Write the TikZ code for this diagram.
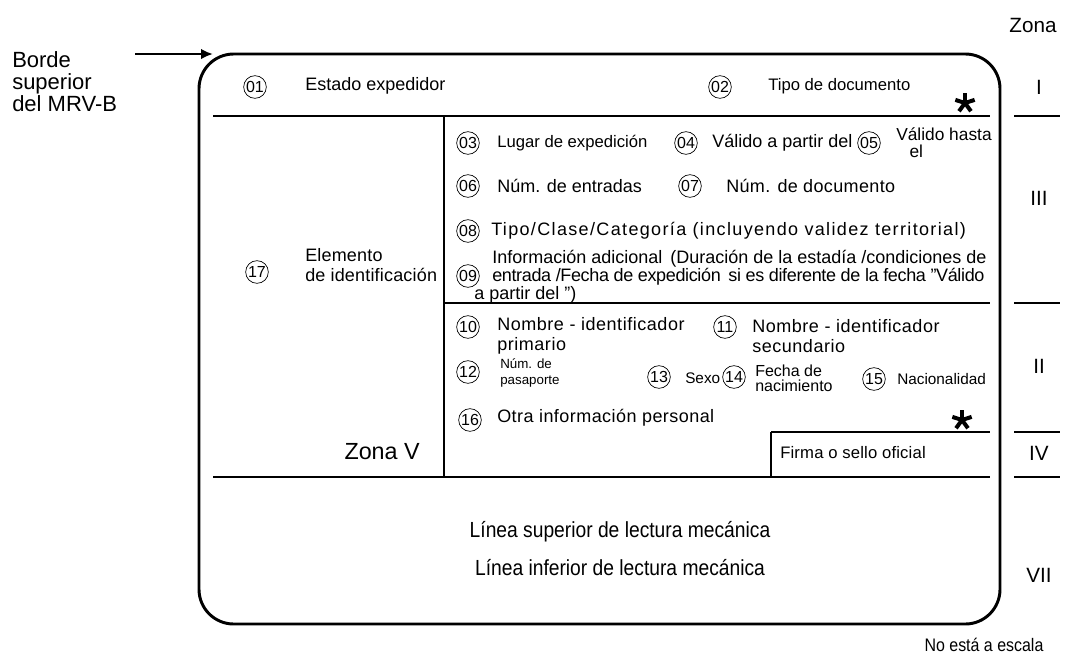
\documentclass[tikz,border=0pt]{standalone}
\usepackage{fontspec}
\setmainfont{Liberation Sans}
\newfontfamily\narrowfont[FakeStretch=0.88]{Liberation Sans}
\usetikzlibrary{arrows.meta}
\tikzset{
	num/.style={draw, circle, line width=0.5pt, inner sep=0pt, minimum size=17pt, font=\fontsize{12}{12}\selectfont},
	lbl/.style={anchor=west, inner sep=0pt, align=left, font=\fontsize{13.5}{14.5}\selectfont\addfontfeatures{LetterSpace=#1}},
	lbl/.default=0,
	smalllbl/.style={anchor=west, inner sep=0pt, align=left, font=\fontsize{10}{11.5}\selectfont},
	zone/.style={inner sep=0pt, font=\fontsize{15.5}{16}\selectfont},
	mrz/.style={inner sep=0pt, font=\narrowfont\fontsize{16.4}{18}\selectfont},
	sepline/.style={line width=0.8pt},
}
% bold five-armed asterisk at a named point
\newcommand{\asterisco}[1]{\foreach \a in {90,18,162,234,306} \draw[line width=3pt] (#1) -- ++(\a:7.6pt);}
\begin{document}
\begin{tikzpicture}[x=0.75pt,y=-0.75pt]
			%%%%% START %%%%%
			\useasboundingbox (0,0) rectangle (1065,658);
			
			% outline of the visa
			\draw[line width=2.2pt, rounded corners=26pt] (199,54) rectangle (1000,624);
			
			% side label and arrow
			\node[anchor=west, inner sep=0pt, align=left, font=\fontsize{16.5}{16.5}\selectfont] (borde) at (12,82) {Borde\\superior\\del MRV-B};
			\coordinate (arrS) at (135,54);
			\coordinate (arrE) at (213,54);
			\draw[line width=2.2pt, -{Latex[length=9pt, width=8pt]}] (arrS) -- (arrE);
			
			% inner lines
			\draw[sepline] (213,116) -- (990,116);
			\draw[sepline] (444,116) -- (444,477);
			\draw[sepline] (444,303) -- (990,303);
			\draw[sepline] (771,432) -- (990,432);
			\draw[sepline] (771,432) -- (771,477);
			\draw[sepline] (213,477) -- (990,477);
			
			% zone column
			\node[zone] (zona) at (1033,25) {Zona};
			\draw[sepline] (1014,116) -- (1060,116);
			\draw[sepline] (1014,303) -- (1060,303);
			\draw[sepline] (1014,432) -- (1060,432);
			\draw[sepline] (1014,477) -- (1060,477);
			\node[zone] (zI) at (1039,87) {I};
			\node[zone] (zIII) at (1039,198) {III};
			\node[zone] (zII) at (1039,366) {II};
			\node[zone] (zIV) at (1039,453) {IV};
			\node[zone] (zVII) at (1039,575) {VII};
			
			% zone I
			\node[num] (n01) at (255,87) {01};
			\node[lbl] (t01) at (305,86) {Estado expedidor};
			\node[num] (n02) at (720,87) {02};
			\node[lbl, font=\fontsize{12.5}{13}\selectfont] (t02) at (768,86) {Tipo de documento};
			\coordinate (st1) at (965,103);
			\asterisco{st1}
			
			% zone III
			\node[num] (n03) at (468,143) {03};
			\node[lbl, font=\fontsize{12.5}{13}\selectfont] (t03) at (497,143) {Lugar de expedición};
			\node[num] (n04) at (686,143) {04};
			\node[lbl] (t04) at (712,143) {Válido a partir del};
			\node[num] (n05) at (869,143) {05};
			\node[lbl, font=\fontsize{13}{12.5}\selectfont] (t05) at (896,143) {Válido hasta\\\hspace*{10pt}el};
			\node[num] (n06) at (468,186) {06};
			\node[lbl] (t06) at (497,186) {Núm. de entradas};
			\node[num] (n07) at (690,186) {07};
			\node[lbl=2] (t07) at (726,186) {Núm. de documento};
			\node[num] (n08) at (468,231) {08};
			\node[lbl=7.5] (t08) at (491,231) {Tipo/Clase/Categoría (incluyendo validez territorial)};
			\node[num] (n09) at (468,276) {09};
			\node[lbl] (t09a) at (492,259) {Información adicional\, (Duración de la estadía /condiciones de};
			\node[lbl=-2] (t09b) at (492,277) {entrada /Fecha de expedición\, si es diferente de la fecha ”Válido};
			\node[lbl] (t09c) at (474,295) {a partir del ”)};
			
			% zone II
			\node[num] (n10) at (468,327) {10};
			\node[lbl=3] (t10) at (497,336) {Nombre - identificador\\primario};
			\node[num] (n11) at (725,327) {11};
			\node[lbl=3] (t11) at (752,336) {Nombre - identificador\\secundario};
			\node[num] (n12) at (468,372) {12};
			\node[smalllbl] (t12) at (500,373) {Núm. de\\pasaporte};
			\node[num] (n13) at (659,377) {13};
			\node[lbl, font=\fontsize{11.5}{12}\selectfont] (t13) at (685,378) {Sexo};
			\node[num] (n14) at (734,377) {14};
			\node[lbl, font=\fontsize{12}{11.5}\selectfont] (t14) at (755,378) {Fecha de\\nacimiento};
			\node[num] (n15) at (874,379) {15};
			\node[lbl, font=\fontsize{11.5}{12}\selectfont] (t15) at (897,379) {Nacionalidad};
			\node[num] (n16) at (470,420) {16};
			\node[lbl=2.5] (t16) at (497,418) {Otra información personal};
			\coordinate (st2) at (962,420);
			\asterisco{st2}
			
			% zone IV and V
			\node[lbl, font=\fontsize{12.5}{13}\selectfont\addfontfeatures{LetterSpace=1}] (firma) at (780,453) {Firma o sello oficial};
			\node[num] (n17) at (257,272) {17};
			\node[lbl=1] (t17) at (305,265) {Elemento\\de identificación};
			\node[anchor=east, inner sep=0pt, font=\fontsize{17.5}{18}\selectfont] (zonaV) at (420,452) {Zona V};
			
			% zone VII
			\node[mrz] (mrzA) at (620,532) {Línea superior de lectura mecánica};
			\node[mrz] (mrzB) at (620,568) {Línea inferior de lectura mecánica};
			
			\node[inner sep=0pt, font=\narrowfont\fontsize{13.6}{14}\selectfont] (escala) at (984,645) {No está a escala};
			
			%%%%% END %%%%%
\end{tikzpicture}
\end{document}
